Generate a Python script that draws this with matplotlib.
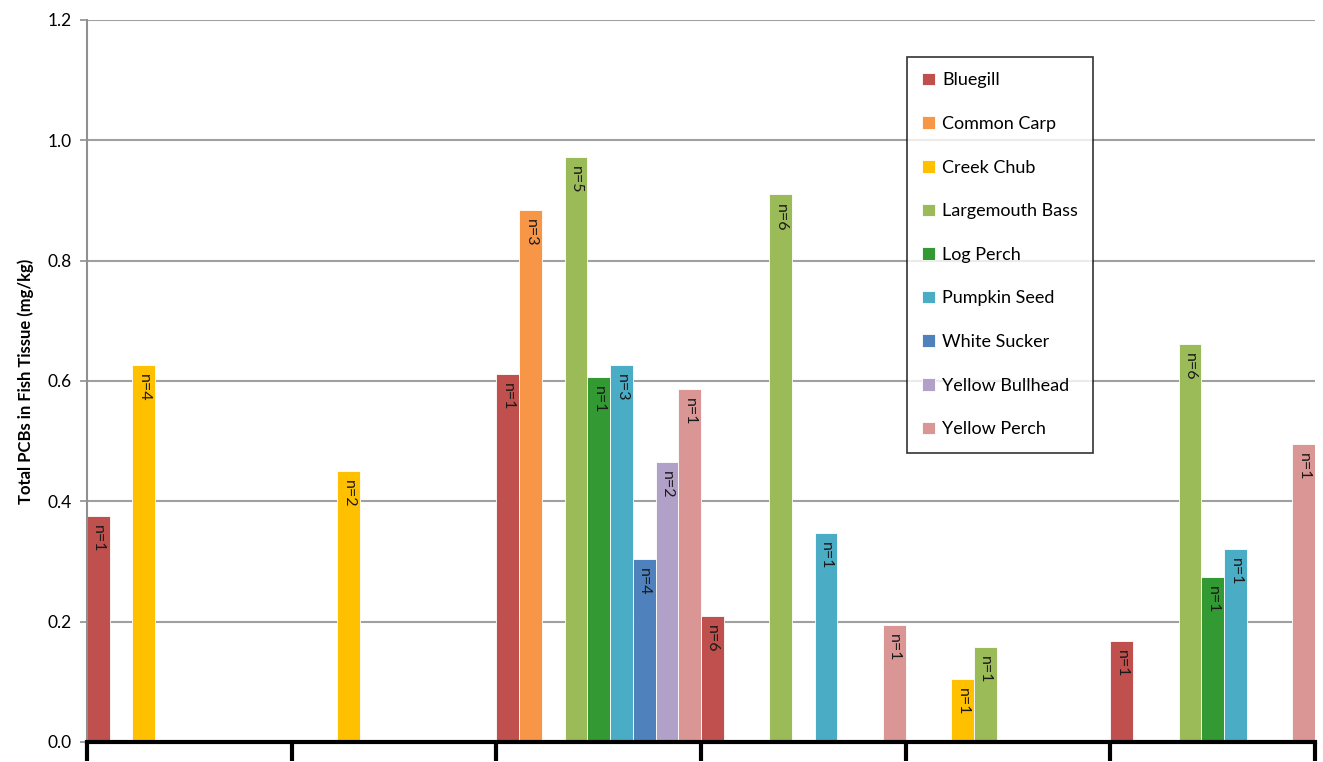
import numpy as np
import matplotlib.pyplot as plt

# one value per site group (6 groups), nan = no sample
species = ['Bluegill', 'Common Carp', 'Creek Chub', 'Largemouth Bass', 'Log Perch',
           'Pumpkin Seed', 'White Sucker', 'Yellow Bullhead', 'Yellow Perch']
colors = ['#C0504D', '#F79646', '#FFC000', '#9BBB59', '#339933',
          '#4BACC6', '#4F81BD', '#B1A0C7', '#DA9694']

nan = np.nan
bluegill = [0.376, nan, 0.611, 0.210, nan, 0.168]
common_carp = [nan, nan, 0.884, nan, nan, nan]
creek_chub = [0.627, 0.451, nan, nan, 0.105, nan]
largemouth_bass = [nan, nan, 0.973, 0.910, 0.158, 0.662]
log_perch = [nan, nan, 0.607, nan, nan, 0.275]
pumpkin_seed = [nan, nan, 0.627, 0.348, nan, 0.321]
white_sucker = [nan, nan, 0.304, nan, nan, nan]
yellow_bullhead = [nan, nan, 0.466, nan, nan, nan]
yellow_perch = [nan, nan, 0.586, 0.195, nan, 0.496]

n_bluegill = [1, None, 1, 6, None, 1]
n_common_carp = [None, None, 3, None, None, None]
n_creek_chub = [4, 2, None, None, 1, None]
n_largemouth_bass = [None, None, 5, 6, 1, 6]
n_log_perch = [None, None, 1, None, None, 1]
n_pumpkin_seed = [None, None, 3, 1, None, 1]
n_white_sucker = [None, None, 4, None, None, None]
n_yellow_bullhead = [None, None, 2, None, None, None]
n_yellow_perch = [None, None, 1, 1, None, 1]

values = [bluegill, common_carp, creek_chub, largemouth_bass, log_perch,
          pumpkin_seed, white_sucker, yellow_bullhead, yellow_perch]
counts = [n_bluegill, n_common_carp, n_creek_chub, n_largemouth_bass, n_log_perch,
          n_pumpkin_seed, n_white_sucker, n_yellow_bullhead, n_yellow_perch]

plt.rcParams['font.family'] = ['Lato', 'DejaVu Sans']

fig = plt.figure(figsize=(13.23, 7.62), dpi=100)
ax = fig.add_axes([87/1323, 20/762, 1228/1323, 722/762])

ngroups = len(bluegill)
w = 1.0 / len(species)
groups = np.arange(ngroups)

for i, (name, vals, ns, c) in enumerate(zip(species, values, counts, colors)):
    x = groups + (i + 0.5) * w
    ax.bar(x, vals, width=w, color=c, edgecolor='white', linewidth=0.6,
           label=name, zorder=2)
    for xi, v, n in zip(x, vals, ns):
        if n is None:
            continue
        ax.text(xi, v - 0.015, 'n=%d' % n, rotation=-90, ha='center', va='top',
                fontsize=11.5, color='#1a1a1a', zorder=3)

ax.set_xlim(0, ngroups)
ax.set_ylim(0, 1.2)
ax.set_yticks(np.arange(0, 1.21, 0.2))
ax.set_yticklabels(['%.1f' % t for t in np.arange(0, 1.21, 0.2)], fontsize=12.5)
ax.set_xticks(np.arange(ngroups + 1))
ax.set_xticklabels([])
ax.tick_params(axis='x', direction='out', length=14, width=3, color='black')
ax.tick_params(axis='y', direction='out', length=5, width=1.2, color='#909090', pad=6)
ax.yaxis.grid(True, color='#A0A0A0', linewidth=1.5, zorder=0)
ax.set_axisbelow(True)

for s in ['top', 'right']:
    ax.spines[s].set_visible(False)
ax.spines['left'].set_color('#909090')
ax.spines['left'].set_linewidth(1.5)
ax.spines['bottom'].set_color('black')
ax.spines['bottom'].set_linewidth(3)
ax.spines['bottom'].set_zorder(4)

ax.set_ylabel('Total PCBs in Fish Tissue (mg/kg)', fontsize=12, fontweight='bold', labelpad=10)

leg = ax.legend(loc='upper left', bbox_to_anchor=((907 - 87)/1228, 1 - 37/722), fontsize=13,
                frameon=True, fancybox=False, edgecolor='black', handlelength=0.7,
                handleheight=0.7, handletextpad=0.4, labelspacing=1.53,
                borderpad=0.85, borderaxespad=0)
leg.get_frame().set_linewidth(1.2)

plt.savefig('out.png', dpi=100)
